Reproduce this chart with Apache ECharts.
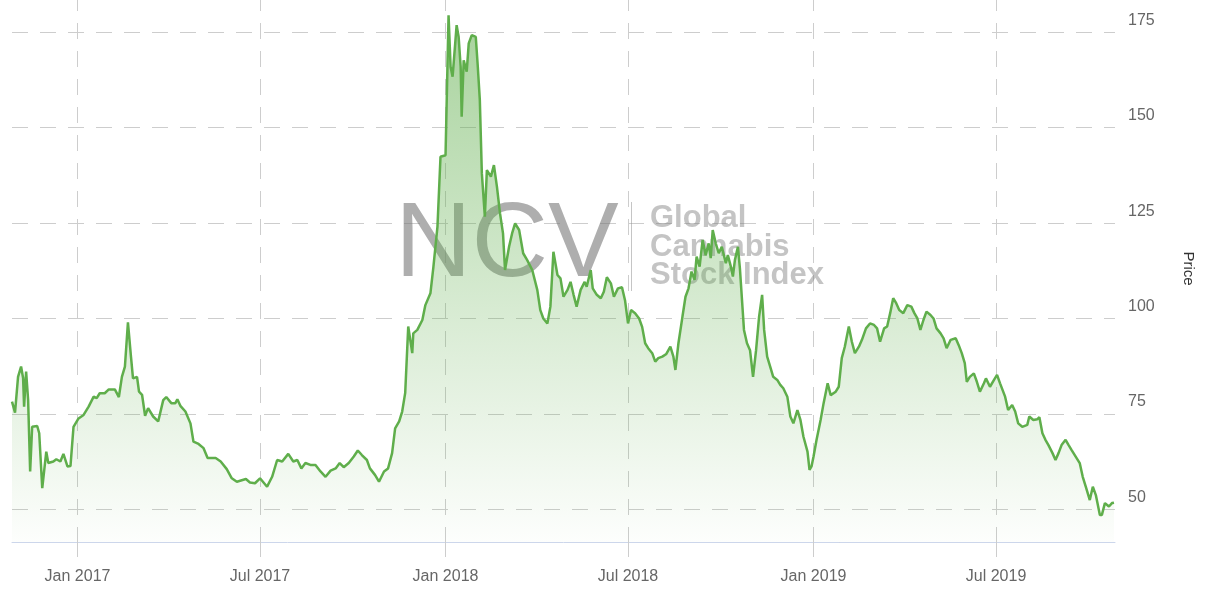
<!DOCTYPE html>
<html><head><meta charset="utf-8">
<script src="https://cdn.jsdelivr.net/npm/echarts@6/dist/echarts.min.js"></script>
<style>html,body{margin:0;padding:0;background:#fff}#c{width:1206px;height:599px}</style>
</head><body><div id="c"></div>
<script>
// ---- data ----
const dates2016 = ['2016-10-28','2016-10-31','2016-11-03','2016-11-06','2016-11-08','2016-11-09','2016-11-11','2016-11-13','2016-11-15','2016-11-17','2016-11-22','2016-11-24','2016-11-27','2016-12-01','2016-12-03','2016-12-08','2016-12-11','2016-12-15','2016-12-18','2016-12-22','2016-12-25','2016-12-28'];
const values2016 = [78.2,75.3,84.7,87.4,84.4,76.9,86.1,78.6,59.9,71.6,71.8,69.9,55.5,65.1,62.1,62.5,63.1,62.5,64.5,61.2,61.3,71.6];

const dates2017 = ['2017-01-02','2017-01-07','2017-01-12','2017-01-17','2017-01-20','2017-01-23','2017-01-28',
 '2017-02-01','2017-02-07','2017-02-11','2017-02-14','2017-02-17','2017-02-20','2017-02-23','2017-02-25',
 '2017-03-01','2017-03-03','2017-03-06','2017-03-09','2017-03-12','2017-03-17','2017-03-22','2017-03-27','2017-03-30',
 '2017-04-04','2017-04-08','2017-04-10','2017-04-13','2017-04-18','2017-04-23','2017-04-26',
 '2017-05-01','2017-05-06','2017-05-10','2017-05-18','2017-05-23','2017-05-29',
 '2017-06-03','2017-06-08','2017-06-17','2017-06-21','2017-06-26',
 '2017-07-01','2017-07-08','2017-07-13','2017-07-18','2017-07-23','2017-07-29',
 '2017-08-03','2017-08-07','2017-08-11','2017-08-15','2017-08-20','2017-08-25','2017-08-30',
 '2017-09-04','2017-09-09','2017-09-14','2017-09-18','2017-09-22','2017-09-27',
 '2017-10-02','2017-10-06','2017-10-10','2017-10-15','2017-10-18','2017-10-23','2017-10-27',
 '2017-11-01','2017-11-05','2017-11-09','2017-11-12','2017-11-16','2017-11-19','2017-11-22','2017-11-25','2017-11-29','2017-11-30',
 '2017-12-04','2017-12-09','2017-12-12','2017-12-17','2017-12-20','2017-12-24','2017-12-27'];
const values2017 = [73.8,74.7,76.9,79.5,79.1,80.4,80.4,
 81.4,81.4,79.4,84.7,87.4,99.0,90.0,84.3,
 84.7,80.8,80.0,74.5,76.5,74.3,73.0,78.6,79.4,
 77.8,77.8,78.8,77.1,75.6,72.5,67.7,
 67.1,66.0,63.4,63.4,62.5,60.5,
 58.1,57.2,57.9,57.0,56.8,
 58.1,55.9,58.5,62.9,62.5,64.5,
 62.5,62.9,60.7,62.1,61.6,61.6,59.9,
 58.5,60.1,60.7,62.1,61.0,62.1,
 63.8,65.4,64.2,62.9,60.7,59.0,57.2,
 59.9,60.7,64.7,71.2,73.0,75.6,80.5,97.9,90.9,96.1,
 97.0,99.6,103.5,106.6,113.6,124.1,142.4];

const dates2018 = ['2018-01-01','2018-01-04','2018-01-06','2018-01-08','2018-01-12','2018-01-14','2018-01-16','2018-01-17','2018-01-19','2018-01-22','2018-01-24','2018-01-27','2018-01-31',
 '2018-02-02','2018-02-04','2018-02-06','2018-02-09','2018-02-11','2018-02-15','2018-02-18','2018-02-21','2018-02-24','2018-02-27',
 '2018-03-01','2018-03-05','2018-03-08','2018-03-11','2018-03-15','2018-03-19','2018-03-23','2018-03-28',
 '2018-04-02','2018-04-05','2018-04-08','2018-04-12','2018-04-15','2018-04-18','2018-04-22','2018-04-25','2018-04-28',
 '2018-05-02','2018-05-05','2018-05-08','2018-05-11','2018-05-15','2018-05-19','2018-05-21','2018-05-25','2018-05-27','2018-05-31',
 '2018-06-04','2018-06-07','2018-06-10','2018-06-14','2018-06-17','2018-06-21','2018-06-25','2018-06-28',
 '2018-07-01','2018-07-04','2018-07-08','2018-07-12','2018-07-15','2018-07-18','2018-07-21','2018-07-25','2018-07-28','2018-07-31',
 '2018-08-04','2018-08-08','2018-08-12','2018-08-15','2018-08-17','2018-08-20','2018-08-24','2018-08-27','2018-08-30',
 '2018-09-02','2018-09-05','2018-09-07','2018-09-10','2018-09-13','2018-09-16','2018-09-19','2018-09-21','2018-09-23','2018-09-26','2018-09-29',
 '2018-10-02','2018-10-06','2018-10-08','2018-10-11','2018-10-13','2018-10-15','2018-10-18','2018-10-20','2018-10-24','2018-10-27','2018-10-30',
 '2018-11-02','2018-11-05','2018-11-08','2018-11-11','2018-11-13','2018-11-16','2018-11-19','2018-11-22','2018-11-26','2018-11-29',
 '2018-12-02','2018-12-06','2018-12-09','2018-12-12','2018-12-16','2018-12-19','2018-12-22','2018-12-26','2018-12-28','2018-12-30'];
const values2018 = [142.8,179.5,166.0,163.4,176.9,173.8,166.0,152.9,167.7,164.7,172.1,174.3,173.8,
 166.0,157.3,138.1,126.7,138.9,137.2,140.2,134.5,127.6,122.3,
 112.7,118.8,122.3,124.9,123.2,117.1,115.3,112.7,
 107.5,102.2,100.0,98.7,103.1,117.5,111.4,110.5,105.7,
 107.5,109.6,106.2,103.1,107.5,109.6,108.3,112.7,107.9,106.2,
 105.3,107.0,110.8,109.2,105.7,107.9,108.2,104.8,
 98.7,102.2,101.4,100.0,97.8,93.5,92.2,90.9,88.7,89.6,
 90.0,90.7,92.6,90.0,86.5,93.5,100.5,105.7,107.9,
 112.3,110.1,116.2,113.6,120.6,116.6,119.7,115.8,123.2,119.7,117.1,
 118.8,114.5,116.6,113.6,111.0,115.3,118.8,113.0,97.0,93.5,91.7,
 84.7,91.7,100.5,106.2,97.0,90.0,87.4,84.7,83.9,82.6,
 81.7,79.5,74.3,72.5,76.0,73.4,69.0,65.1,60.3,61.2];

const dates2019 = ['2019-01-01','2019-01-04','2019-01-08','2019-01-11','2019-01-15','2019-01-18','2019-01-23','2019-01-26','2019-01-29',
 '2019-02-01','2019-02-05','2019-02-08','2019-02-11','2019-02-15','2019-02-18','2019-02-22','2019-02-26',
 '2019-03-02','2019-03-05','2019-03-08','2019-03-12','2019-03-15','2019-03-18','2019-03-21','2019-03-24','2019-03-27','2019-03-31',
 '2019-04-04','2019-04-08','2019-04-11','2019-04-14','2019-04-17','2019-04-20','2019-04-23','2019-04-27','2019-04-30',
 '2019-05-03','2019-05-07','2019-05-10','2019-05-13','2019-05-17','2019-05-22','2019-05-25','2019-05-28','2019-05-31',
 '2019-06-02','2019-06-05','2019-06-09','2019-06-12','2019-06-15','2019-06-19','2019-06-21','2019-06-25','2019-06-29',
 '2019-07-02','2019-07-05','2019-07-10','2019-07-13','2019-07-17','2019-07-20','2019-07-23','2019-07-27',
 '2019-08-01','2019-08-03','2019-08-07','2019-08-11','2019-08-13','2019-08-16','2019-08-19','2019-08-22','2019-08-26','2019-08-29',
 '2019-09-01','2019-09-04','2019-09-08','2019-09-11','2019-09-14','2019-09-18','2019-09-22','2019-09-25','2019-09-28',
 '2019-10-02','2019-10-05','2019-10-08','2019-10-12','2019-10-14','2019-10-17','2019-10-21','2019-10-24','2019-10-26'];
const values2019 = [63.8,68.2,73.4,77.8,83.0,79.9,80.8,82.1,89.6,
 92.6,97.9,93.9,90.9,92.6,94.4,97.4,98.7,
 98.3,97.4,93.9,97.4,97.9,101.4,105.3,104.0,102.2,101.4,
 103.5,103.1,101.4,100.0,97.0,99.6,101.8,100.9,100.0,
 97.4,96.1,94.8,92.2,94.4,94.8,93.0,90.9,88.3,
 83.4,84.7,85.6,83.4,80.8,83.0,84.3,82.1,83.9,
 85.2,83.0,79.5,76.0,77.3,75.6,72.5,71.6,
 72.1,74.3,73.4,73.6,74.1,69.9,68.2,66.8,64.7,62.9,
 64.7,66.8,68.2,66.8,65.5,63.8,62.1,58.5,55.9,
 52.4,55.9,53.7,48.5,48.5,51.6,50.7,51.6,51.7];

const xTickDates = ['2017-01-01','2017-07-01','2018-01-01','2018-07-01','2019-01-01','2019-07-01'];
const monthNames = ['Jan','Feb','Mar','Apr','May','Jun','Jul','Aug','Sep','Oct','Nov','Dec'];
const xRange = ['2016-10-28','2019-10-27'];
const yRange = [41.4, 184.8];
const yStep = 25;
const seriesName = 'Price';
const logoMain = 'NCV';
const logoLines = ['Global','Cannabis','Stock Index'];

// ---- build ----
function ts(s){ const p = s.split('-').map(Number); return Date.UTC(p[0], p[1]-1, p[2]); }
const allDates = dates2016.concat(dates2017, dates2018, dates2019);
const allValues = values2016.concat(values2017, values2018, values2019);
const points = allDates.map((d, i) => [ts(d), allValues[i]]);
const tickTs = xTickDates.map(ts);

const FONT = '"Liberation Sans", Arial, Helvetica, sans-serif';
const GRID = '#cdcdcd';
const DASH = [16, 12];
const GREEN = '#5fae4b';

const chart = echarts.init(document.getElementById('c'), null, {renderer: 'canvas'});
chart.setOption({
  animation: false,
  backgroundColor: '#fff',
  grid: { left: 12, right: 91, top: -5, bottom: 57, containLabel: false, outerBoundsMode: 'none' },
  xAxis: {
    type: 'value',
    min: ts(xRange[0]), max: ts(xRange[1]),
    axisLine: { show: true, lineStyle: { color: '#ccd6eb', width: 1 } },
    axisTick: { show: true, customValues: tickTs, length: 15, lineStyle: { color: GRID, type: DASH } },
    axisLabel: {
      customValues: tickTs, color: '#666', fontSize: 16, fontFamily: FONT, margin: 27,
      formatter: function (v) { const d = new Date(v); return monthNames[d.getUTCMonth()] + ' ' + d.getUTCFullYear(); }
    },
    splitLine: { show: true, lineStyle: { color: GRID, type: DASH, width: 1 } }
  },
  yAxis: {
    type: 'value', position: 'right',
    min: yRange[0], max: yRange[1], minInterval: yStep, maxInterval: yStep,
    axisLine: { show: false }, axisTick: { show: false },
    axisLabel: {
      color: '#666', fontSize: 16, fontFamily: FONT, margin: 13,
      verticalAlign: 'bottom', padding: [0, 0, 4, 0],
      formatter: function (v) { return Math.abs(v % yStep) < 1e-6 ? String(v) : ''; }
    },
    splitLine: { show: true, lineStyle: { color: GRID, type: DASH, width: 1 } },
    name: seriesName, nameLocation: 'middle', nameRotate: -90, nameGap: 66,
    nameTextStyle: { color: '#333', fontSize: 15, fontFamily: FONT }
  },
  graphic: [
    { type: 'text', z: 1, x: 395, y: 247, style: { text: logoMain, font: 'normal 106px ' + FONT, fill: 'rgba(120,120,120,0.6)', verticalAlign: 'middle' } },
    { type: 'line', z: 1, shape: { x1: 631.5, y1: 202, x2: 631.5, y2: 291 }, style: { stroke: 'rgba(150,150,150,0.55)', lineWidth: 1 } },
    { type: 'text', z: 1, x: 650, y: 218, style: { text: logoLines[0], font: 'bold 31px ' + FONT, fill: 'rgba(125,125,125,0.45)', verticalAlign: 'middle' } },
    { type: 'text', z: 1, x: 650, y: 247, style: { text: logoLines[1], font: 'bold 31px ' + FONT, fill: 'rgba(125,125,125,0.45)', verticalAlign: 'middle' } },
    { type: 'text', z: 1, x: 650, y: 275, style: { text: logoLines[2], font: 'bold 31px ' + FONT, fill: 'rgba(125,125,125,0.45)', verticalAlign: 'middle' } }
  ],
  series: [{
    name: seriesName, type: 'line', data: points, showSymbol: false, symbol: 'none', z: 3,
    lineStyle: { color: GREEN, width: 2.5 }, itemStyle: { color: GREEN },
    areaStyle: {
      color: new echarts.graphic.LinearGradient(0, 0, 0, 1, [
        { offset: 0, color: 'rgba(95,174,75,0.78)' },
        { offset: 1, color: 'rgba(95,174,75,0.02)' }
      ])
    }
  }]
});
</script></body></html>
